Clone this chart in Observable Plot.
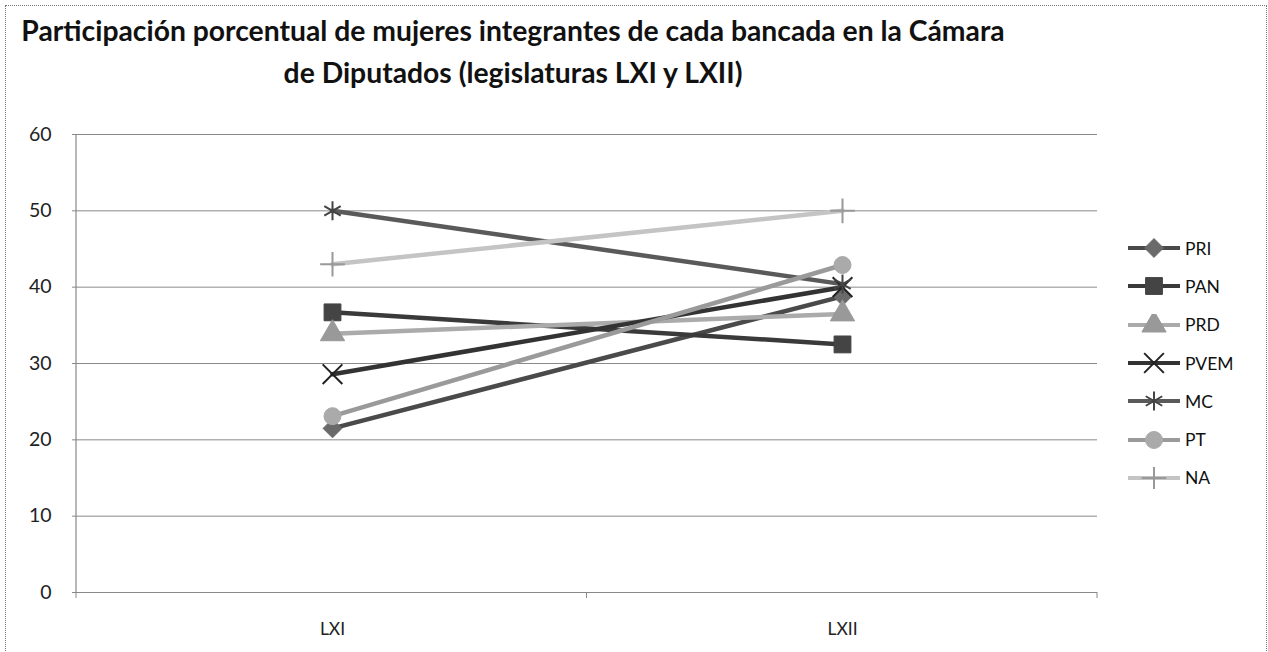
<!DOCTYPE html>
<html>
<head>
<meta charset="utf-8">
<script src="https://cdn.jsdelivr.net/npm/d3@7"></script>
<script src="https://cdn.jsdelivr.net/npm/@observablehq/plot@0.6"></script>
<style>
  html, body { margin: 0; padding: 0; background: #fff; }
  #wrap { position: relative; width: 1268px; height: 652px; overflow: hidden; font-family: Lato, "Open Sans", sans-serif; }
  #frame { position: absolute; left: 5px; top: 5px; width: 1262px; height: 660px; border: 1px dotted #777; box-sizing: border-box; pointer-events: none; z-index: 5; }
  #title { position: absolute; left: 8px; top: 9px; width: 1010px; text-align: center; font-weight: bold; font-size: 28.3px; line-height: 42px; color: #111; z-index: 2; }
  #chart { position: absolute; left: 0; top: 110px; }
  #legend { position: absolute; left: 1126px; top: 229px; z-index: 2; }
  .item { height: 38.3px; display: flex; align-items: center; font-size: 17.5px; color: #111; }
  .item svg { margin-right: 3px; }
</style>
</head>
<body>
<div id="wrap">
  <div id="title">Participación porcentual de mujeres integrantes de cada bancada en la Cámara<br>de Diputados (legislaturas LXI y LXII)</div>
  <div id="chart"></div>
  <div id="legend"></div>
  <div id="frame"></div>
</div>
<script>
// ---- data ----
const categories = ["LXI", "LXII"];
const parties = ["PRI", "PAN", "PRD", "PVEM", "MC", "PT", "NA"];
const valuesLXI  = [21.5, 36.7, 33.9, 28.6, 50.0, 23.1, 43.0];
const valuesLXII = [38.8, 32.5, 36.5, 40.0, 40.4, 42.9, 50.0];
const yTicks = [0, 10, 20, 30, 40, 50, 60];

// ---- styling per party ----
const lineColors   = {PRI: "#4a4a4a", PAN: "#3a3a3a", PRD: "#ababab", PVEM: "#333333", MC: "#5a5a5a", PT: "#9a9a9a", NA: "#c4c4c4"};
const markColors   = {PRI: "#6a6a6a", PAN: "#444444", PRD: "#999999", PVEM: "#222222", MC: "#444444", PT: "#aaaaaa", NA: "#999999"};
const symbols      = {PRI: "diamond2", PAN: "square", PRD: "triangle", PVEM: "times", MC: "asterisk", PT: "circle", NA: "plus"};
const filled       = {PRI: true, PAN: true, PRD: true, PVEM: false, MC: false, PT: true, NA: false};
const sizes        = {PRI: 8.5, PAN: 9.5, PRD: 9, PVEM: 9, MC: 9, PT: 8.5, NA: 8};

const rows = [];
parties.forEach((p, i) => {
  rows.push({party: p, leg: categories[0], value: valuesLXI[i]});
  rows.push({party: p, leg: categories[1], value: valuesLXII[i]});
});

const marks = [
  Plot.gridY(yTicks, {stroke: "#8a8a8a", strokeOpacity: 1, strokeWidth: 1}),
  Plot.ruleY([0], {stroke: "#888", strokeWidth: 1.2}),
  Plot.axisY(yTicks, {tickSize: 4, tickPadding: 21, fontSize: 19.5, stroke: "#888", fill: "#222"}),
  Plot.axisX({tickSize: 0, tickPadding: 30, fontSize: 17.5, fill: "#222", label: null})
];
parties.forEach(p => {
  const d = rows.filter(r => r.party === p);
  marks.push(Plot.line(d, {x: "leg", y: "value", stroke: lineColors[p], strokeWidth: 4.5}));
});
parties.forEach(p => {
  const d = rows.filter(r => r.party === p);
  marks.push(Plot.dot(d, {
    x: "leg", y: "value", symbol: () => symbols[p], r: sizes[p],
    fill: filled[p] ? markColors[p] : "none",
    stroke: markColors[p], strokeWidth: filled[p] ? 1 : 2
  }));
});

const chart = Plot.plot({
  width: 1268, height: 542,
  marginTop: 24, marginBottom: 60, marginLeft: 76, marginRight: 171,
  style: {fontFamily: "Lato, 'Open Sans', sans-serif", background: "transparent", overflow: "visible"},
  x: {type: "point", domain: categories, padding: 0.5, label: null},
  y: {domain: [0, 60], label: null},
  symbol: {type: "identity"},
  marks
});

// left axis line and category boundary ticks, from the library's scales
const xs = chart.scale("x"), ys = chart.scale("y");
const [x0, x1] = xs.range;
const [yb, yt] = ys.range;
const svg = d3.select(chart);
const g = svg.insert("g", "g");
g.append("line").attr("x1", x0).attr("x2", x0).attr("y1", yt).attr("y2", yb).attr("stroke", "#888").attr("stroke-width", 1.2);
for (let i = 0; i <= categories.length; i++) {
  const xb = x0 + i * (x1 - x0) / categories.length;
  g.append("line").attr("x1", xb).attr("x2", xb).attr("y1", yb).attr("y2", yb + 6).attr("stroke", "#888");
}
document.getElementById("chart").appendChild(chart);

// ---- legend ----
const legend = document.getElementById("legend");
parties.forEach(p => {
  const item = document.createElement("div");
  item.className = "item";
  const s = d3.create("svg").attr("width", 56).attr("height", 22);
  s.append("line").attr("x1", 2).attr("x2", 54).attr("y1", 11).attr("y2", 11).attr("stroke", lineColors[p]).attr("stroke-width", 4);
  const sym = {diamond2: d3.symbolDiamond2, square: d3.symbolSquare, triangle: d3.symbolTriangle, times: d3.symbolTimes, asterisk: d3.symbolAsterisk, circle: d3.symbolCircle, plus: d3.symbolPlus}[symbols[p]];
  const r = sizes[p];
  s.append("path").attr("transform", "translate(28,11)")
    .attr("d", d3.symbol(sym, Math.PI * r * r)())
    .attr("fill", filled[p] ? markColors[p] : "none")
    .attr("stroke", markColors[p]).attr("stroke-width", filled[p] ? 1 : 2);
  item.appendChild(s.node());
  const t = document.createElement("span");
  t.textContent = p;
  item.appendChild(t);
  legend.appendChild(item);
});
</script>
</body>
</html>
